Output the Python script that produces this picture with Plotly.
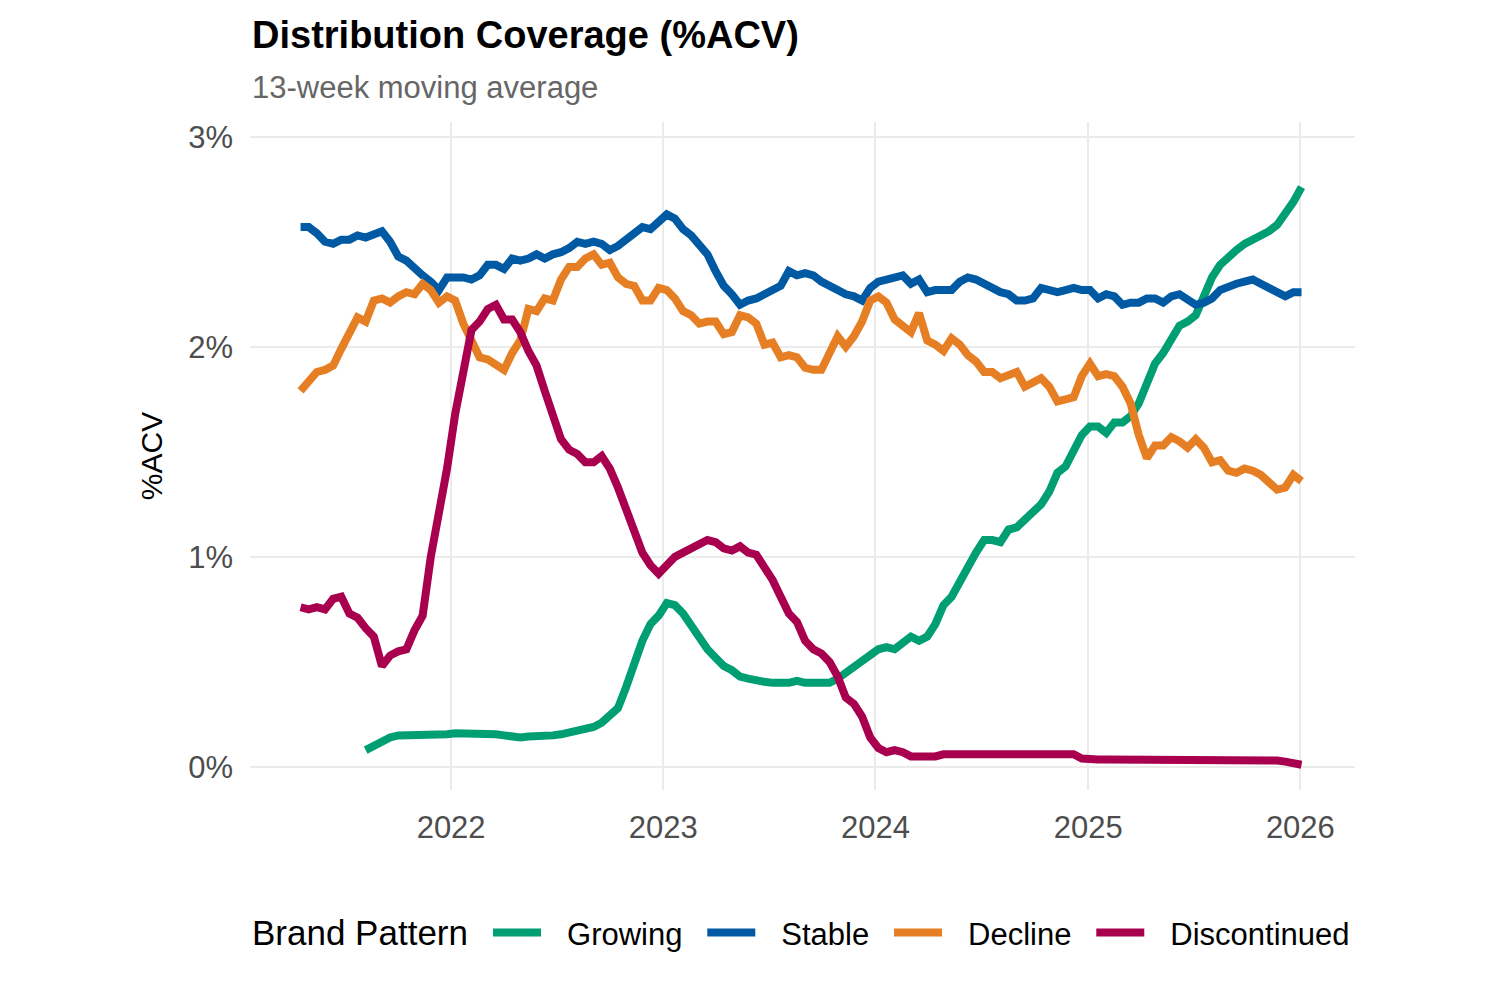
import pandas as pd
import plotly.graph_objects as go

start_date = "2021-04-17"
n_points = 124

growing = [None]*8 + [
    0.08, 0.10, 0.13, 0.14, 0.15, 0.15, 0.15, 0.155, 0.155, 0.155, 0.155, 0.16,
    0.16, 0.16, 0.16, 0.155, 0.155, 0.15, 0.145, 0.14, 0.145, 0.145, 0.145, 0.15,
    0.155, 0.165, 0.17, 0.18, 0.19, 0.21, 0.25, 0.28, 0.38, 0.49, 0.60, 0.68,
    0.72, 0.78, 0.77, 0.73, 0.67, 0.61, 0.56, 0.52, 0.48, 0.46, 0.43, 0.42,
    0.41, 0.405, 0.40, 0.40, 0.40, 0.41, 0.40, 0.40, 0.40, 0.40, 0.42, 0.45,
    0.47, 0.51, 0.54, 0.56, 0.57, 0.56, 0.59, 0.62, 0.60, 0.62, 0.68, 0.77,
    0.81, 0.88, 0.96, 1.02, 1.08, 1.08, 1.07, 1.13, 1.14, 1.18, 1.21, 1.25,
    1.31, 1.40, 1.43, 1.51, 1.58, 1.62, 1.62, 1.59, 1.64, 1.64, 1.67, 1.73,
    1.83, 1.92, 1.97, 2.04, 2.10, 2.12, 2.15, 2.24, 2.33, 2.39, 2.43, 2.46,
    2.49, 2.51, 2.52, 2.55, 2.58, 2.63, 2.69, 2.76]

stable = [
    2.57, 2.57, 2.54, 2.50, 2.49, 2.51, 2.51, 2.53, 2.52, 2.54, 2.55, 2.50,
    2.43, 2.41, 2.37, 2.34, 2.31, 2.27, 2.33, 2.33, 2.33, 2.32, 2.34, 2.39,
    2.39, 2.37, 2.42, 2.41, 2.42, 2.44, 2.42, 2.44, 2.45, 2.47, 2.50, 2.49,
    2.50, 2.49, 2.46, 2.48, 2.51, 2.54, 2.57, 2.56, 2.60, 2.63, 2.61, 2.56,
    2.53, 2.48, 2.44, 2.36, 2.29, 2.25, 2.20, 2.22, 2.23, 2.25, 2.27, 2.29,
    2.36, 2.34, 2.35, 2.34, 2.31, 2.29, 2.26, 2.25, 2.24, 2.22, 2.28, 2.31,
    2.32, 2.33, 2.34, 2.30, 2.32, 2.26, 2.27, 2.27, 2.27, 2.31, 2.33, 2.32,
    2.30, 2.27, 2.26, 2.25, 2.22, 2.22, 2.23, 2.28, 2.27, 2.26, 2.27, 2.28,
    2.27, 2.27, 2.23, 2.25, 2.24, 2.20, 2.21, 2.21, 2.23, 2.23, 2.21, 2.24,
    2.25, 2.23, 2.20, 2.21, 2.23, 2.27, 2.29, 2.30, 2.31, 2.32, 2.30, 2.28,
    2.25, 2.24, 2.26, 2.26]

decline = [
    1.79, 1.83, 1.88, 1.89, 1.91, 1.99, 2.07, 2.14, 2.12, 2.22, 2.23, 2.21,
    2.24, 2.26, 2.25, 2.30, 2.27, 2.21, 2.24, 2.22, 2.11, 2.03, 1.95, 1.94,
    1.92, 1.89, 1.97, 2.03, 2.18, 2.17, 2.23, 2.22, 2.32, 2.38, 2.38, 2.42,
    2.44, 2.39, 2.40, 2.33, 2.30, 2.29, 2.22, 2.22, 2.28, 2.27, 2.23, 2.17,
    2.15, 2.11, 2.12, 2.12, 2.06, 2.07, 2.15, 2.14, 2.11, 2.01, 2.02, 1.95,
    1.96, 1.95, 1.90, 1.89, 1.89, 1.97, 2.05, 2.00, 2.05, 2.12, 2.22, 2.24,
    2.21, 2.13, 2.10, 2.07, 2.16, 2.03, 2.01, 1.98, 2.04, 2.01, 1.96, 1.93,
    1.88, 1.88, 1.85, 1.87, 1.88, 1.81, 1.83, 1.85, 1.81, 1.74, 1.75, 1.76,
    1.86, 1.92, 1.86, 1.87, 1.86, 1.81, 1.73, 1.58, 1.47, 1.53, 1.53, 1.57,
    1.55, 1.52, 1.56, 1.52, 1.45, 1.46, 1.41, 1.40, 1.42, 1.41, 1.39, 1.35,
    1.32, 1.33, 1.39, 1.36]

discontinued = [
    0.76, 0.75, 0.76, 0.75, 0.80, 0.81, 0.73, 0.71, 0.66, 0.62, 0.48, 0.53,
    0.55, 0.56, 0.65, 0.72, 1.00, 1.19, 1.42, 1.68, 1.88, 2.08, 2.12, 2.18,
    2.20, 2.13, 2.13, 2.07, 1.98, 1.91, 1.79, 1.66, 1.56, 1.51, 1.49, 1.45,
    1.45, 1.48, 1.42, 1.33, 1.22, 1.11, 1.02, 0.96, 0.92, 0.96, 1.00, 1.02,
    1.04, 1.05, 1.08, 1.07, 1.04, 1.03, 1.05, 1.02, 1.01, 0.95, 0.89, 0.81,
    0.73, 0.69, 0.60, 0.56, 0.54, 0.50, 0.43, 0.33, 0.30, 0.24, 0.14, 0.09,
    0.07, 0.08, 0.07, 0.05, 0.05, 0.05, 0.05, 0.06, 0.06, 0.06, 0.06, 0.06,
    0.06, 0.06, 0.06, 0.06, 0.06, 0.06, 0.06, 0.06, 0.06, 0.06, 0.06, 0.06,
    0.04, 0.035, 0.035, 0.035, 0.035, 0.035, 0.035, 0.035, 0.035, 0.035, 0.035, 0.035,
    0.035, 0.035, 0.035, 0.035, 0.035, 0.035, 0.035, 0.035, 0.035, 0.035, 0.035, 0.035,
    0.03, 0.025, 0.02, 0.01]

series_names = ["Growing", "Stable", "Decline", "Discontinued"]
series_values = [growing, stable, decline, discontinued]
series_colors = ["#009E73", "#0059A3", "#E67F24", "#A8004F"]

y_tick_vals = [0, 1, 2, 3]
y_tick_text = ["0%", "1%", "2%", "3%"]

dates = pd.date_range(start=start_date, periods=n_points, freq="14D")

FONT = "Liberation Sans, Arial, sans-serif"
NBSP = "\u00a0"
THIN = "\u2009"

fig = go.Figure()
for name, vals, col in zip(series_names, series_values, series_colors):
    fig.add_trace(go.Scatter(
        x=dates, y=vals, name=NBSP + THIN * 2 + name + NBSP + THIN, mode="lines",
        line=dict(color=col, width=8), connectgaps=False,
    ))

fig.update_layout(
    width=1500, height=1000,
    paper_bgcolor="white", plot_bgcolor="white",
    margin=dict(l=250, r=145, t=122, b=210),
    font=dict(family=FONT, color="#000000"),
    xaxis=dict(
        type="date",
        range=["2021-01-20", "2026-04-05"],
        tick0="2022-01-01", dtick="M12", tickformat="%Y",
        showgrid=True, gridcolor="#EBEBEB", gridwidth=2,
        zeroline=False, showline=False, ticks="",
        tickfont=dict(size=31, color="#4D4D4D"),
        ticklabelstandoff=16,
    ),
    yaxis=dict(
        range=[-0.11, 3.07],
        tickvals=y_tick_vals, ticktext=y_tick_text,
        showgrid=True, gridcolor="#EBEBEB", gridwidth=2,
        zeroline=False, showline=False, ticks="",
        tickfont=dict(size=31, color="#4D4D4D"),
        ticklabelstandoff=16,
        title=dict(text="%ACV", font=dict(size=30, color="#000000"), standoff=16),
    ),
    legend=dict(
        orientation="h", x=0.2154, xanchor="left", y=-0.214, yanchor="middle",
        font=dict(size=31), itemwidth=48, valign="middle",
    ),
    showlegend=True,
    annotations=[
        dict(text="<b>Distribution Coverage (%ACV)</b>", xref="paper", yref="paper",
             x=0, y=1.130, xanchor="left", yanchor="middle", showarrow=False,
             font=dict(size=38, color="#000000", family=FONT)),
        dict(text="13-week moving average", xref="paper", yref="paper",
             x=0, y=1.052, xanchor="left", yanchor="middle", showarrow=False,
             font=dict(size=31, color="#666666", family=FONT)),
        dict(text="Brand Pattern", xref="paper", yref="paper",
             x=0.0, y=-0.214, xanchor="left", yanchor="middle", showarrow=False,
             font=dict(size=35, color="#000000", family=FONT)),
    ],
)

fig.write_html("out.html")
